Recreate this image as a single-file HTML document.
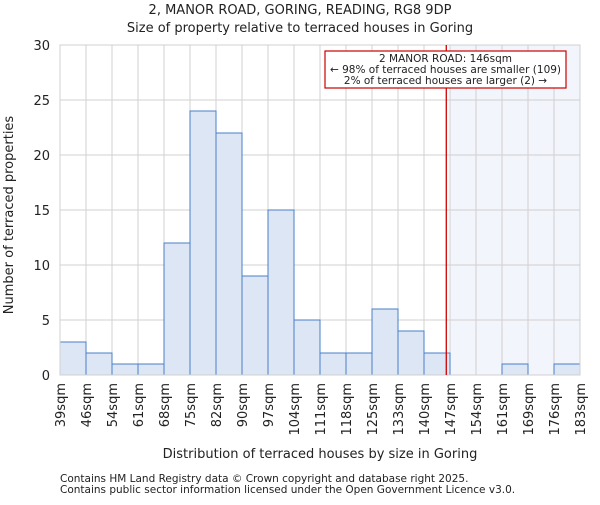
<!DOCTYPE html>
<html><head><meta charset="utf-8"><style>body{margin:0;background:#fff}svg text{font-family:"DejaVu Sans","Liberation Sans",sans-serif;fill:#222}</style></head>
<body>
<svg id="c" width="600" height="500" xmlns="http://www.w3.org/2000/svg"></svg>
<script>
const labels=["39sqm","46sqm","54sqm","61sqm","68sqm","75sqm","82sqm","90sqm","97sqm","104sqm","111sqm","118sqm","125sqm","133sqm","140sqm","147sqm","154sqm","161sqm","169sqm","176sqm","183sqm"];
const counts=[3,2,1,1,12,24,22,9,15,5,2,2,6,4,2,0,0,1,0,1];
const yTicks=[0,5,10,15,20,25,30];
const propertyBinPos=14.857;
const S="http://www.w3.org/2000/svg",svg=document.getElementById('c');
const L=60,R=580,T=45,B=375,n=counts.length;
const xs=i=>L+(R-L)*i/n, ys=v=>B-(B-T)*v/30;
function el(t,a,txt){const e=document.createElementNS(S,t);for(const k in a)e.setAttribute(k,a[k]);if(txt!=null)e.textContent=txt;svg.appendChild(e);return e;}
let e=el('rect',{x:xs(15),y:T,width:R-xs(15),height:B-T,fill:'#f3f5fc'});


for(let i=0;i<=n;i++){e=el('line',{x1:xs(i),x2:xs(i),y1:T,y2:B,stroke:'#d0d0d0','stroke-width':1});

}
yTicks.forEach(v=>{e=el('line',{x1:L,x2:R,y1:ys(v),y2:ys(v),stroke:'#d0d0d0','stroke-width':1});


e=el('text',{x:L-10,y:ys(v)+5,'text-anchor':'end','font-size':13},v);

});
counts.forEach((c,i)=>{if(!c)return;e=el('rect',{x:xs(i),y:ys(c),width:xs(i+1)-xs(i),height:B-ys(c),fill:'#dce6f4',stroke:'#4a7fc9','stroke-width':1});

});
labels.forEach((l,i)=>{const x=xs(i);e=el('text',{transform:`translate(${x+5},${B+8}) rotate(-90)`,'text-anchor':'end','font-size':13},l);

});
e=el('rect',{x:L,y:T,width:R-L,height:B-T,fill:'none',stroke:'#d0d0d0'});


const px=xs(propertyBinPos);
e=el('line',{x1:px,x2:px,y1:T,y2:B,stroke:'#cc0000','stroke-width':1.3});


e=el('rect',{x:325,y:51,width:241,height:37,fill:'#fff',stroke:'#cc0000','stroke-width':1.2});


[["2 MANOR ROAD: 146sqm",62],["← 98% of terraced houses are smaller (109)",73],["2% of terraced houses are larger (2) →",84]].forEach(([t,y])=>{e=el('text',{x:445.5,y:y,'text-anchor':'middle','font-size':10.5},t);

});
e=el('text',{x:300,y:14,'text-anchor':'middle','font-size':13},"2, MANOR ROAD, GORING, READING, RG8 9DP");


e=el('text',{x:300,y:32,'text-anchor':'middle','font-size':13},"Size of property relative to terraced houses in Goring");


e=el('text',{x:320,y:458,'text-anchor':'middle','font-size':13},"Distribution of terraced houses by size in Goring");


e=el('text',{transform:'translate(13,215) rotate(-90)','text-anchor':'middle','font-size':13},"Number of terraced properties");


e=el('text',{x:60,y:482,'font-size':10.5,fill:'#444'},"Contains HM Land Registry data © Crown copyright and database right 2025.");


e=el('text',{x:60,y:493,'font-size':10.5,fill:'#444'},"Contains public sector information licensed under the Open Government Licence v3.0.");


</script>
</body></html>
